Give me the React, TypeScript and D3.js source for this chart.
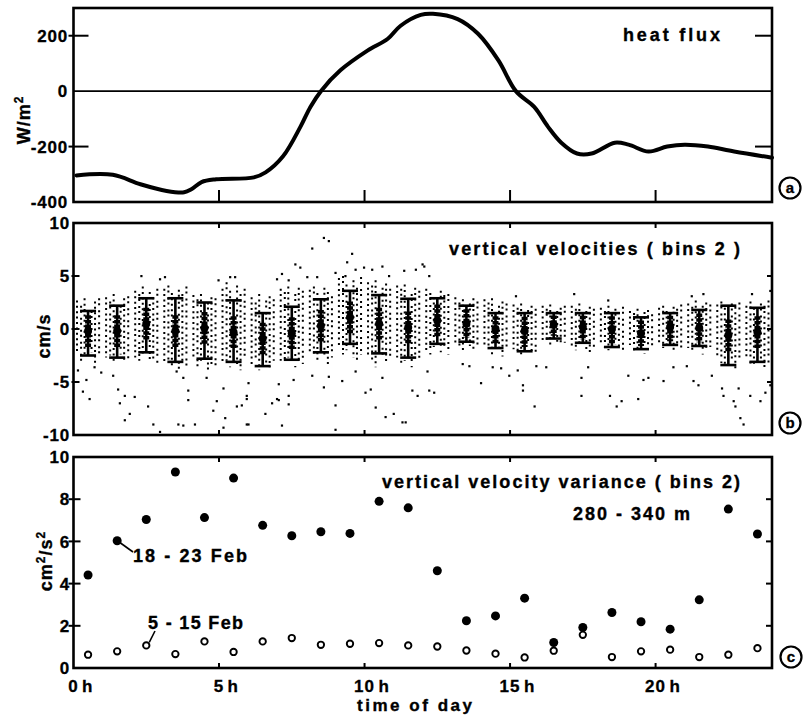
import React from 'react';
import * as d3 from 'd3';

// ---------- data ----------
const hourTicks = [0, 5, 10, 15, 20];
const fluxTicks = [200, 0, -200, -400];
const velTicks = [10, 5, 0, -5, -10];
const varTicks = [10, 8, 6, 4, 2, 0];

const fluxHours = [0.1, 1.35, 2.3, 3.2, 3.8, 4.05, 4.4, 4.9, 6.2, 6.6, 7.2, 7.8, 8.14, 8.5, 9.17, 10.1, 10.8, 11.24, 11.93, 12.35, 13.2, 13.9, 14.6, 15.2, 15.83, 16.3, 16.76, 17.3, 17.8, 18.6, 19.07, 19.76, 20.4, 21.0, 21.8, 22.7, 24];
const fluxValues = [-304, -302, -336, -360, -365, -354, -328, -318, -311, -293, -235, -128, -57, 0, 75, 146, 189, 236, 275, 279, 260, 207, 111, 0, -57, -128, -186, -225, -225, -186, -193, -218, -200, -193, -200, -218, -240];

const binHours = [0.5, 1.5, 2.5, 3.5, 4.5, 5.5, 6.5, 7.5, 8.5, 9.5, 10.5, 11.5, 12.5, 13.5, 14.5, 15.5, 16.5, 17.5, 18.5, 19.5, 20.5, 21.5, 22.5, 23.5];
const velMean = [-0.2, -0.2, 0.5, -0.2, 0.1, -0.3, -0.9, -0.4, 0.3, 1.1, 0.5, 0.15, 0.8, 0.5, 0.0, -0.2, 0.4, 0.2, 0.0, -0.4, 0.2, 0.1, -0.6, -0.3];
const velHi = [1.7, 2.2, 2.9, 2.9, 2.5, 2.7, 1.5, 2.1, 2.8, 3.6, 3.2, 2.85, 2.9, 2.2, 1.5, 1.5, 1.5, 1.5, 1.5, 1.1, 1.5, 1.8, 2.2, 2.0];
const velLo = [-2.5, -2.7, -2.2, -3.1, -2.8, -3.1, -3.5, -2.9, -2.2, -1.4, -2.3, -2.7, -1.4, -1.2, -1.8, -2.1, -0.9, -1.3, -1.7, -1.9, -1.5, -1.6, -3.4, -3.1];

const colOffsets = [0.12, 0.26, 0.38, 0.62, 0.74, 0.88];
const colRanges = [
  [[-2.4, 2.7], [-3.0, 2.2], [-2.7, 2.9], [-2.2, 1.7], [-3.2, 2.6], [-2.6, 2.9]],
  [[-2.7, 3.0], [-2.5, 2.6], [-3.0, 3.3], [-2.4, 2.2], [-3.2, 2.9], [-2.8, 3.1]],
  [[-2.7, 3.6], [-3.0, 3.3], [-2.5, 4.0], [-3.2, 3.5], [-2.8, 3.0], [-3.3, 3.8]],
  [[-3.3, 3.8], [-3.0, 4.1], [-3.6, 3.4], [-3.9, 3.7], [-3.2, 3.3], [-3.5, 4.0]],
  [[-2.7, 3.2], [-3.6, 2.8], [-3.0, 3.3], [-3.9, 2.5], [-3.3, 3.0], [-3.6, 2.9]],
  [[-3.3, 3.8], [-3.0, 4.4], [-3.6, 3.6], [-3.3, 4.1], [-3.9, 3.3], [-3.0, 3.8]],
  [[-3.6, 3.0], [-3.0, 2.5], [-3.9, 3.3], [-3.3, 2.7], [-3.6, 3.1], [-3.0, 2.8]],
  [[-3.0, 3.8], [-3.3, 3.5], [-2.7, 4.0], [-3.6, 3.3], [-3.0, 3.9], [-3.3, 3.6]],
  [[-2.4, 3.7], [-2.7, 4.0], [-3.0, 3.4], [-2.4, 3.9], [-3.3, 3.5], [-2.7, 3.1]],
  [[-1.8, 4.8], [-2.4, 5.0], [-2.0, 4.2], [-2.7, 4.6], [-3.0, 3.9], [-2.4, 4.9]],
  [[-2.4, 4.4], [-3.0, 4.1], [-3.6, 4.6], [-2.7, 3.9], [-3.3, 4.3], [-3.0, 3.8]],
  [[-2.7, 4.1], [-3.3, 3.8], [-3.0, 4.2], [-3.6, 3.3], [-2.7, 3.9], [-3.0, 3.6]],
  [[-2.0, 3.8], [-2.4, 3.4], [-1.7, 3.0], [-2.2, 3.6], [-1.8, 3.2], [-2.4, 3.3]],
  [[-1.4, 3.0], [-1.8, 2.5], [-2.2, 2.8], [-1.6, 2.4], [-2.0, 2.9], [-1.5, 2.6]],
  [[-1.7, 2.8], [-2.0, 2.5], [-2.4, 2.9], [-1.8, 2.2], [-2.6, 2.6], [-2.1, 2.4]],
  [[-1.9, 2.3], [-2.4, 2.0], [-2.7, 2.4], [-1.6, 1.8], [-2.2, 2.2], [-2.5, 1.9]],
  [[-1.1, 2.2], [-1.4, 1.9], [-1.7, 2.3], [-1.2, 1.7], [-1.5, 2.0], [-1.3, 2.2]],
  [[-1.6, 2.2], [-2.0, 1.9], [-1.4, 2.4], [-1.9, 1.7], [-2.4, 2.1], [-1.7, 1.9]],
  [[-1.4, 2.0], [-1.8, 1.7], [-2.0, 2.2], [-1.5, 1.9], [-1.9, 1.6], [-2.2, 2.1]],
  [[-1.5, 1.7], [-2.0, 1.5], [-1.8, 1.9], [-2.3, 1.6], [-1.6, 1.8], [-2.0, 1.4]],
  [[-1.4, 2.0], [-1.8, 2.2], [-1.6, 1.7], [-2.1, 2.1], [-1.5, 1.9], [-1.9, 2.3]],
  [[-1.8, 2.4], [-2.2, 2.1], [-1.6, 2.7], [-2.4, 2.2], [-2.0, 2.5], [-1.7, 2.3]],
  [[-2.7, 2.3], [-3.2, 2.6], [-3.6, 2.0], [-2.9, 2.4], [-3.9, 2.1], [-3.0, 2.5]],
  [[-2.8, 2.2], [-3.3, 2.6], [-3.6, 2.0], [-3.0, 2.4], [-3.9, 2.2], [-3.3, 2.7]],
];

const outliers = [
  [0.15, -3.9], [0.44, -4.8], [0.32, -5.9], [0.55, -6.6], [0.72, -3.6], [0.95, -4.1],
  [1.36, -4.4], [1.53, -5.7], [1.76, -6.3], [1.59, -7.0], [1.93, -8.0], [1.76, -8.6], [2.1, -6.4],
  [2.33, 5.0], [2.56, -7.3], [2.74, -9.0], [2.97, -9.7],
  [3.14, 4.9], [2.97, 4.7], [3.54, -4.0], [3.77, -4.6], [3.6, -9.0], [3.77, -9.1], [3.94, -5.8], [3.94, -6.7], [4.17, -9.0],
  [4.57, -4.6], [4.8, -7.7], [4.92, -6.8], [5.15, -5.6],
  [4.98, 4.6], [5.38, 4.9], [5.55, 4.9], [5.61, -7.3], [5.78, -7.2], [5.15, -9.3], [5.95, -9.0], [5.95, -6.6], [5.21, -8.4],
  [6.01, -5.1], [5.95, -6.3], [6.59, -8.0], [6.01, -9.0], [6.82, -7.0], [6.99, -6.6], [7.05, -5.2],
  [7.16, 5.2], [7.39, 4.6], [7.62, 6.1], [7.79, 5.8], [6.99, 4.7], [7.39, -6.3], [7.39, -7.1], [7.16, -9.1], [7.56, -4.8], [7.05, -6.7],
  [8.2, 7.6], [8.6, 8.6], [8.77, 8.3], [8.37, 4.9], [8.03, 4.9], [8.2, -4.4], [8.6, -5.5], [8.77, -4.5], [9.0, -7.2], [9.0, -9.5],
  [9.4, 6.3], [9.57, 7.1], [9.0, 5.3], [9.34, 5.0], [9.69, 5.6], [9.98, 5.8], [9.23, -4.9], [9.69, -4.0],
  [10.61, 5.9], [10.26, 5.6], [10.84, 5.0], [10.03, -6.0], [10.21, -5.7], [10.38, -7.4], [10.61, -4.6], [10.72, -8.3], [11.0, -8.0],
  [11.36, 5.5], [11.99, 6.1], [11.76, 5.6], [11.64, -5.8], [11.82, -6.3], [11.3, -8.8], [11.41, -8.8],
  [12.05, 5.9], [12.22, 5.0], [12.22, -5.8], [12.39, -6.0], [12.16, -4.0],
  [13.37, -3.3], [14.0, -5.1], [13.6, -3.5],
  [14.4, -3.6], [14.69, -3.7], [14.97, -4.4],
  [15.2, 3.1], [15.26, -3.9], [15.44, -5.3], [15.44, -5.8], [15.84, -7.3], [15.9, -3.5],
  [16.24, -3.6],
  [17.2, 3.3], [17.45, -4.6], [17.45, -6.3], [17.68, -3.6],
  [18.37, 2.7], [18.43, -6.3], [18.66, -7.3], [18.83, -6.8],
  [19.06, -4.4], [19.4, -6.6], [19.58, -4.8], [19.75, -4.6],
  [20.27, -4.9], [20.61, -3.6], [21.07, -3.5],
  [21.24, 3.1], [21.64, 3.3], [21.3, -4.9], [21.47, -5.3], [21.93, -4.4],
  [22.28, -5.6], [22.33, -6.3], [22.68, -6.8], [22.74, -7.3], [22.91, -8.4], [23.02, -9.0], [22.85, -5.6],
  [23.31, 3.3], [23.94, 3.6], [23.25, -6.3], [23.6, -6.8], [23.77, -6.0], [23.94, -5.3],
];

const varFeb18 = [4.41, 6.03, 7.04, 9.29, 7.13, 9.0, 6.76, 6.27, 6.46, 6.38, 7.9, 7.59, 4.61, 2.24, 2.47, 3.31, 1.21, 1.92, 2.63, 2.19, 1.84, 3.23, 7.53, 6.35];
const varFeb5 = [0.63, 0.79, 1.07, 0.66, 1.26, 0.76, 1.26, 1.42, 1.10, 1.15, 1.18, 1.07, 1.02, 0.83, 0.68, 0.50, 0.82, 1.57, 0.52, 0.79, 0.87, 0.52, 0.63, 0.94];

// ---------- layout ----------
const FONT = '"Liberation Sans", Arial, Helvetica, sans-serif';
const L = 73.5, R = 772;
const PA = { top: 8, bottom: 202 };
const PB = { top: 223, bottom: 435 };
const PC = { top: 457, bottom: 668 };

export default function App() {
  const x = d3.scaleLinear().domain([0, 24]).range([L, R]);
  const ya = d3.scaleLinear().domain([-400, 300]).range([PA.bottom, PA.top]);
  const yb = d3.scaleLinear().domain([-10, 10]).range([PB.bottom, PB.top]);
  const yc = d3.scaleLinear().domain([0, 10]).range([PC.bottom, PC.top]);

  const fluxLine = d3.line<number>()
    .x((_, i) => x(fluxHours[i]))
    .y((d) => ya(d))
    .curve(d3.curveCatmullRom.alpha(0.5));

  const tickLabel = (txt: string, xx: number, yy: number) => (
    <text key={txt + yy} x={xx} y={yy} dy="0.36em" textAnchor="end" fontSize={17} fontWeight="bold" letterSpacing={0.8} fontFamily={FONT} stroke="#000" strokeWidth={0.3}>{txt}</text>
  );

  const frame = (p: { top: number; bottom: number }) => (
    <rect x={L} y={p.top} width={R - L} height={p.bottom - p.top} fill="none" stroke="#000" strokeWidth={2.6} />
  );

  const circ = (letter: string, cx: number, cy: number) => (
    <g>
      <circle cx={cx} cy={cy} r={10.5} fill="#fff" stroke="#000" strokeWidth={2.2} />
      <text x={cx} y={cy} dy="0.36em" textAnchor="middle" fontSize={15} fontWeight="bold" fontFamily={FONT} stroke="#000" strokeWidth={0.3}>{letter}</text>
    </g>
  );

  const title = { fontSize: 18, fontWeight: 'bold' as const, fontFamily: FONT, stroke: '#000', strokeWidth: 0.35 };

  return (
    <svg width={805} height={716} style={{ position: 'absolute', left: 0, top: 0, background: '#fff' }}>
      <rect x={0} y={0} width={805} height={716} fill="#fff" />

      {/* ---------- panel a ---------- */}
      <line x1={L} x2={R} y1={ya(0)} y2={ya(0)} stroke="#000" strokeWidth={1.6} />
      {[200, -200].map((t) => (
        <g key={'ta' + t}>
          <line x1={L - 5} x2={L + 15} y1={ya(t)} y2={ya(t)} stroke="#000" strokeWidth={2} />
          <line x1={R - 17} x2={R} y1={ya(t)} y2={ya(t)} stroke="#000" strokeWidth={2} />
        </g>
      ))}
      {hourTicks.filter((h) => h > 0).map((h) => (
        <line key={'tab' + h} x1={x(h)} x2={x(h)} y1={PA.bottom} y2={PA.bottom - 12} stroke="#000" strokeWidth={2} />
      ))}
      {fluxTicks.map((t) => tickLabel(String(t), 68, ya(t)))}
      <path d={fluxLine(fluxValues) || ''} fill="none" stroke="#000" strokeWidth={4} strokeLinejoin="round" strokeLinecap="round" />
      {frame(PA)}
      <text x={623} y={41} {...title} textLength={97} lengthAdjust="spacing">heat flux</text>
      <text transform="translate(30,120) rotate(-90)" textAnchor="middle" {...title} letterSpacing={1}>
        W/m<tspan dy={-7} fontSize={12}>2</tspan>
      </text>
      {circ('a', 790, 188)}

      {/* ---------- panel b ---------- */}
      {colRanges.map((cols, i) =>
        cols.map((r, j) => (
          <line key={'c' + i + '-' + j}
            x1={x(binHours[i] - 0.5 + colOffsets[j])} x2={x(binHours[i] - 0.5 + colOffsets[j])}
            y1={yb(r[1])} y2={yb(r[0])}
            stroke="#000" strokeWidth={2} strokeDasharray={j % 2 === 0 ? '2 3.4' : '2 3 2 5'} />
        ))
      )}
      {outliers.map((p, i) => (
        <rect key={'o' + i} x={x(p[0]) - 1} y={yb(p[1]) - 1} width={2.2} height={2.2} fill="#000" />
      ))}
      {binHours.map((h, i) => {
        const cx = x(h);
        const m = velMean[i];
        const cHi = m + Math.min(1.5, (velHi[i] - m) * 0.8);
        const cLo = m - Math.min(1.5, (m - velLo[i]) * 0.8);
        return (
          <g key={'b' + i}>
            <line x1={cx} x2={cx} y1={yb(velHi[i])} y2={yb(velLo[i])} stroke="#000" strokeWidth={2.6} />
            <line x1={cx - 8} x2={cx + 8} y1={yb(velHi[i])} y2={yb(velHi[i])} stroke="#000" strokeWidth={2.6} />
            <line x1={cx - 8} x2={cx + 8} y1={yb(velLo[i])} y2={yb(velLo[i])} stroke="#000" strokeWidth={2.6} />
            <line x1={cx} x2={cx} y1={yb(cHi)} y2={yb(cLo)} stroke="#000" strokeWidth={6} strokeDasharray="3.5 1.2" />
            <circle cx={cx} cy={yb(m)} r={4} fill="#000" />
          </g>
        );
      })}
      {[5, 0, -5].map((t) => (
        <g key={'tb' + t}>
          <line x1={L - 2} x2={L + 6} y1={yb(t)} y2={yb(t)} stroke="#000" strokeWidth={2} />
          <line x1={R - 5} x2={R} y1={yb(t)} y2={yb(t)} stroke="#000" strokeWidth={2} />
        </g>
      ))}
      {hourTicks.filter((h) => h > 0).map((h) => (
        <g key={'tbx' + h}>
          <line x1={x(h)} x2={x(h)} y1={PB.bottom} y2={PB.bottom - 5} stroke="#000" strokeWidth={2} />
          <line x1={x(h)} x2={x(h)} y1={PB.top} y2={PB.top + 5} stroke="#000" strokeWidth={2} />
        </g>
      ))}
      {velTicks.map((t) => tickLabel(String(t), 70, yb(t)))}
      {frame(PB)}
      <text x={449} y={255} {...title} textLength={291} lengthAdjust="spacing">vertical velocities ( bins 2 )</text>
      <text transform="translate(50,336) rotate(-90)" textAnchor="middle" {...title} letterSpacing={1}>cm/s</text>
      {circ('b', 790, 423)}

      {/* ---------- panel c ---------- */}
      {[8, 6, 4, 2].map((t) => (
        <g key={'tc' + t}>
          <line x1={L - 5} x2={L + 7} y1={yc(t)} y2={yc(t)} stroke="#000" strokeWidth={2} />
          <line x1={R - 6} x2={R} y1={yc(t)} y2={yc(t)} stroke="#000" strokeWidth={2} />
        </g>
      ))}
      {hourTicks.filter((h) => h > 0).map((h) => (
        <g key={'tcx' + h}>
          <line x1={x(h)} x2={x(h)} y1={PC.bottom} y2={PC.bottom - 5} stroke="#000" strokeWidth={2} />
          <line x1={x(h)} x2={x(h)} y1={PC.top} y2={PC.top + 5} stroke="#000" strokeWidth={2} />
        </g>
      ))}
      {varTicks.map((t) => tickLabel(String(t), 70, yc(t)))}
      {binHours.map((h, i) => (
        <circle key={'f' + i} cx={x(h)} cy={yc(varFeb18[i])} r={4.5} fill="#000" />
      ))}
      {binHours.map((h, i) => (
        <circle key={'e' + i} cx={x(h)} cy={yc(varFeb5[i])} r={3.2} fill="#fff" stroke="#000" strokeWidth={1.9} />
      ))}
      {frame(PC)}
      <line x1={x(binHours[1]) + 3} y1={yc(varFeb18[1]) + 2} x2={133} y2={552} stroke="#000" strokeWidth={1.6} />
      <line x1={x(binHours[2]) + 3} y1={yc(varFeb5[2]) - 3} x2={155} y2={631} stroke="#000" strokeWidth={1.6} />
      <text x={382} y={488} {...title} textLength={358} lengthAdjust="spacing">vertical velocity variance ( bins 2)</text>
      <text x={573} y={520} {...title} textLength={117} lengthAdjust="spacing">280 - 340 m</text>
      <text x={133} y={562} {...title} textLength={114} lengthAdjust="spacing">18 - 23 Feb</text>
      <text x={148} y={629} {...title} textLength={95} lengthAdjust="spacing">5 - 15 Feb</text>
      <text transform="translate(52,561) rotate(-90)" textAnchor="middle" {...title} letterSpacing={1}>
        cm<tspan dy={-7} fontSize={12}>2</tspan><tspan dy={7}>/s</tspan><tspan dy={-7} fontSize={12}>2</tspan>
      </text>
      {circ('c', 791, 657)}

      {/* x axis labels */}
      {hourTicks.map((h) => {
        const n = String(h).length;
        return (
          <g key={'xl' + h}>
            <text x={x(h)} y={692} textAnchor="middle" fontSize={17} fontWeight="bold" fontFamily={FONT} letterSpacing={1} stroke="#000" strokeWidth={0.3}>{String(h)}</text>
            <text x={x(h) + n * 5.5 + 3} y={692} fontSize={17} fontWeight="bold" fontFamily={FONT} stroke="#000" strokeWidth={0.3}>h</text>
          </g>
        );
      })}
      <text x={357} y={711} {...title} fontSize={17} textLength={115} lengthAdjust="spacing">time of day</text>
    </svg>
  );
}
